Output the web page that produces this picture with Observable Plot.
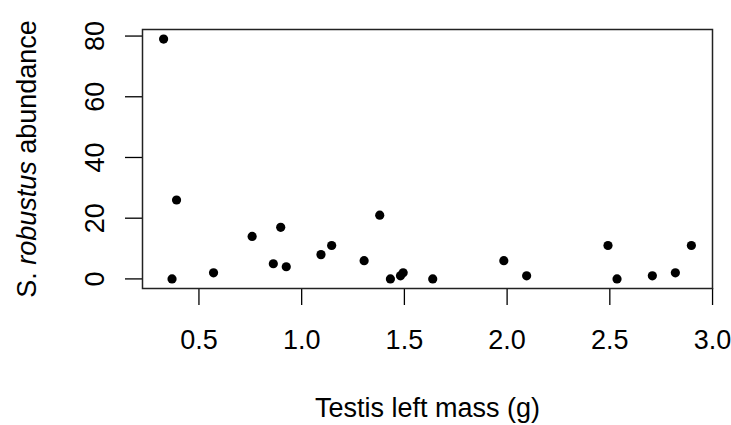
<!DOCTYPE html>
<html>
<head>
<meta charset="utf-8">
<script src="https://cdn.jsdelivr.net/npm/d3@7"></script>
<script src="https://cdn.jsdelivr.net/npm/@observablehq/plot@0.6"></script>
<style>
  html, body { margin: 0; padding: 0; background: #fff; }
  svg { display: block; }
</style>
</head>
<body>
<div id="chart"></div>
<script>
// Data
const testisMass = [0.328, 0.391, 0.369, 0.571, 0.759, 0.862, 0.898, 0.925, 1.094, 1.146, 1.304, 1.380, 1.432, 1.481, 1.494, 1.638, 1.984, 2.095, 2.491, 2.535, 2.707, 2.819, 2.897];
const abundance  = [79, 26, 0, 2, 14, 5, 17, 4, 8, 11, 6, 21, 0, 1, 2, 0, 6, 1, 11, 0, 1, 2, 11];
const xTicks = [0.5, 1.0, 1.5, 2.0, 2.5, 3.0];
const yTicks = [0, 20, 40, 60, 80];
const xTitle = "Testis left mass (g)";
const yTitleItalic = "robustus";
const yTitlePrefix = "S. ";
const yTitleSuffix = " abundance";

const points = testisMass.map((m, i) => ({mass: m, abund: abundance[i]}));

// R-style 4% padding on data range
const xr = d3.extent(testisMass), yr = d3.extent(abundance);
const xp = (xr[1] - xr[0]) * 0.04, yp = (yr[1] - yr[0]) * 0.04;

const FS = 27;
const plot = Plot.plot({
  width: 731,
  height: 425,
  marginLeft: 142,
  marginRight: 19,
  marginTop: 29,
  marginBottom: 137,
  style: {fontFamily: "'Liberation Sans', Arial, sans-serif", fontSize: FS + "px", color: "#000", background: "#fff"},
  x: {domain: [xr[0] - xp, xr[1] + xp]},
  y: {domain: [yr[0] - yp, yr[1] + yp]},
  marks: [
    Plot.axisX({ticks: xTicks, tickSize: 17, tickPadding: 24, tickFormat: d3.format(".1f"), label: null, fontSize: FS, strokeWidth: 1.3}),
    Plot.axisY({ticks: yTicks, tickSize: 17, tickFormat: () => "", label: null, strokeWidth: 1.3}),
    Plot.text(yTicks, {y: d => d, text: d => String(d), frameAnchor: "left", dx: -39, rotate: -90, lineAnchor: "bottom", textAnchor: "middle", fontSize: FS}),
    Plot.frame({stroke: "#222", strokeWidth: 1.5}),
    Plot.dot(points, {x: "mass", y: "abund", r: 4.6, fill: "#000", stroke: null}),
    Plot.text([xTitle], {frameAnchor: "bottom", dy: 128, lineAnchor: "bottom", textAnchor: "middle", text: d => d, fontSize: FS}),
    Plot.text([yTitlePrefix + yTitleItalic + yTitleSuffix], {frameAnchor: "left", dx: -107, rotate: -90, lineAnchor: "bottom", textAnchor: "middle", text: d => d, fontSize: FS, className: "ytitle"})
  ]
});
document.getElementById("chart").appendChild(plot);

// Make "robustus" italic inside the y-axis title
d3.select(plot).selectAll(".ytitle text").each(function() {
  const t = d3.select(this);
  t.text(null);
  t.append("tspan").text(yTitlePrefix);
  t.append("tspan").attr("font-style", "italic").text(yTitleItalic);
  t.append("tspan").text(yTitleSuffix);
});
</script>
</body>
</html>
